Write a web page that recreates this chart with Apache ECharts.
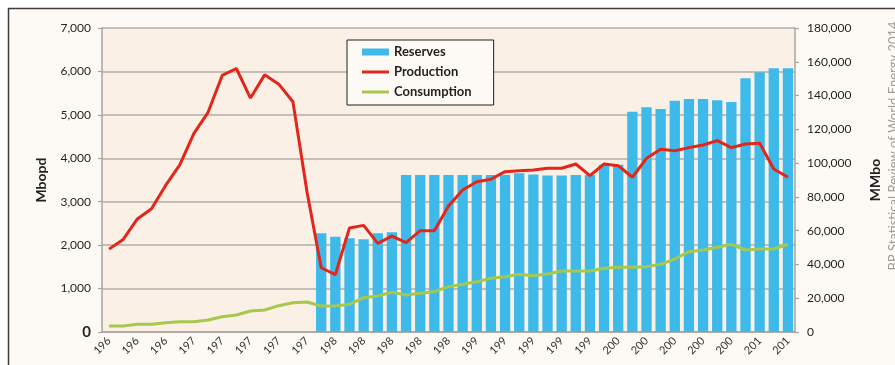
<!DOCTYPE html>
<html>
<head>
<meta charset="utf-8">
<script src="https://cdn.jsdelivr.net/npm/echarts@6/dist/echarts.min.js"></script>
<style>
html,body{margin:0;padding:0;background:#ffffff;}
#chart{width:895px;height:365px;}
</style>
</head>
<body>
<div id="chart"></div>
<script>
// Years 1965–2013
var years = [];
for (var y = 1965; y <= 2013; y++) years.push(String(y));

// Oil production, thousand barrels per day (Mbopd)
var production = [1908,2132,2603,2840,3375,3848,4572,5059,5908,6067,
                  5387,5921,5707,5302,3218,1479,1321,2397,2455,2042,
                  2206,2057,2333,2333,2900,3270,3461,3517,3692,3715,
                  3731,3770,3770,3869,3600,3869,3830,3563,4000,4207,
                  4175,4245,4307,4406,4245,4330,4345,3754,3563];

// Oil consumption, thousand barrels per day (Mbopd)
var consumption = [138,138,177,177,214,237,237,276,353,391,
                   484,507,606,675,690,599,599,637,790,829,
                   914,852,891,928,1044,1098,1158,1237,1274,1329,
                   1297,1336,1405,1405,1405,1467,1490,1490,1505,1559,
                   1681,1850,1888,1951,2020,1888,1911,1911,2020];

// Proved reserves, million barrels (MMbo); none shown before 1980
var reserves = [null,null,null,null,null,null,null,null,null,null,
                null,null,null,null,null,
                58440,56430,55470,54880,58440,59030,
                92900,92900,92900,92900,92900,92900,
                92900,92900,94000,93200,92600,92600,93000,93000,99000,99000,
                130450,133040,132040,136970,137960,137960,137170,136180,150190,153770,156140,156140];

var leftTicks = {min:0, max:7000, interval:1000};
var rightTicks = {min:0, max:180000, interval:20000};
var sourceNote = 'BP Statistical Review of World Energy 2014';

var chart = echarts.init(document.getElementById('chart'), null, {renderer:'canvas'});
var FONT = 'Lato, "Liberation Sans", sans-serif';
var gridGray = '#b3aea9';
var axisGray = '#a9a49f';
var lineIcon = 'path://M0,0h27v3h-27z';

function fmt(v){ return Number(v).toLocaleString('en-US'); }

chart.setOption({
  animation:false,
  backgroundColor:'#ffffff',
  textStyle:{fontFamily:FONT},
  graphic:[
    {type:'rect', z:-100, shape:{x:8.5, y:8.5, width:1000, height:1000},
     style:{fill:'#fdfaf6', stroke:'#3c3c3c', lineWidth:1.5}},
    {type:'text', z:10, x:894, y:146, rotation:Math.PI/2,
     style:{text:sourceNote, fill:'#9d9d9d', font:'13px ' + FONT, align:'center', verticalAlign:'middle'}}
  ],
  grid:{left:102, right:100, top:28, bottom:33, show:true, backgroundColor:'#fbf0e6', borderWidth:0},
  legend:{
    left:347, top:40, orient:'vertical',
    padding:[5,22,6,15], itemGap:6, itemWidth:27, itemHeight:7, symbolKeepAspect:true,
    backgroundColor:'#fdfaf6', borderColor:'#231f20', borderWidth:1,
    textStyle:{fontFamily:FONT, fontWeight:'bold', fontSize:13, color:'#231f20', lineHeight:14},
    data:[{name:'Reserves', icon:'rect'},
          {name:'Production', icon:lineIcon},
          {name:'Consumption', icon:lineIcon}]
  },
  xAxis:{
    type:'category', data:years, boundaryGap:true,
    axisLine:{lineStyle:{color:axisGray, width:1.5}},
    axisTick:{interval:0, length:4, lineStyle:{color:axisGray, width:1.2}},
    axisLabel:{interval:1, rotate:45, margin:7, fontSize:11, color:'#333333', fontFamily:FONT,
               formatter:function(v){ return String(v).slice(0,3); }},
    splitLine:{show:false}
  },
  yAxis:[
    {type:'value', min:leftTicks.min, max:leftTicks.max, interval:leftTicks.interval,
     name:'Mbopd', nameLocation:'middle', nameGap:54,
     nameTextStyle:{fontFamily:FONT, fontWeight:'bold', fontSize:14, color:'#231f20'},
     axisLine:{show:true, lineStyle:{color:axisGray, width:1.5}},
     axisTick:{show:true, length:4, lineStyle:{color:axisGray, width:1.2}},
     axisLabel:{margin:11, fontSize:12, color:'#231f20', fontFamily:FONT,
       formatter:function(v){ return v === 0 ? '{z|0}' : fmt(v); },
       rich:{z:{fontWeight:'bold', fontSize:15, color:'#231f20', fontFamily:FONT}}},
     splitLine:{show:true, lineStyle:{color:gridGray, width:1.5}}},
    {type:'value', min:rightTicks.min, max:rightTicks.max, interval:rightTicks.interval,
     name:'MMbo', nameLocation:'middle', nameGap:73, nameRotate:90,
     nameTextStyle:{fontFamily:FONT, fontWeight:'bold', fontSize:14, color:'#231f20'},
     axisLine:{show:true, lineStyle:{color:axisGray, width:1.5}},
     axisTick:{show:true, length:4, lineStyle:{color:axisGray, width:1.2}},
     axisLabel:{margin:12, fontSize:12, color:'#231f20', fontFamily:FONT, formatter:fmt},
     splitLine:{show:false}}
  ],
  series:[
    {name:'Reserves', type:'bar', yAxisIndex:1, data:reserves, barWidth:'73%', z:2,
     itemStyle:{color:'#3dbaea'}},
    {name:'Consumption', type:'line', yAxisIndex:0, data:consumption, symbol:'none', z:3,
     lineStyle:{color:'#a6c84c', width:3}, itemStyle:{color:'#a6c84c'}},
    {name:'Production', type:'line', yAxisIndex:0, data:production, symbol:'none', z:4,
     lineStyle:{color:'#e3261c', width:3}, itemStyle:{color:'#e3261c'}}
  ]
});
</script>
</body>
</html>
